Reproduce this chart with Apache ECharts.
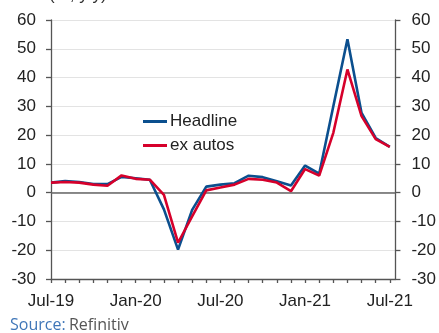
<!DOCTYPE html>
<html>
<head>
<meta charset="utf-8">
<script src="https://cdn.jsdelivr.net/npm/echarts@6/dist/echarts.min.js"></script>
<style>
html,body{margin:0;padding:0;background:#fff;}
#c{width:439px;height:333px;}
</style>
</head>
<body>
<div id="c"></div>
<script>
var months = ["Jul-19","Aug-19","Sep-19","Oct-19","Nov-19","Dec-19","Jan-20","Feb-20","Mar-20","Apr-20","May-20","Jun-20","Jul-20","Aug-20","Sep-20","Oct-20","Nov-20","Dec-20","Jan-21","Feb-21","Mar-21","Apr-21","May-21","Jun-21","Jul-21"];
var headline = [3.5, 4.0, 3.7, 3.0, 3.0, 5.5, 5.0, 4.5, -5.8, -19.8, -6.0, 2.1, 2.8, 3.3, 5.9, 5.4, 4.0, 2.5, 9.4, 6.6, 30.0, 53.3, 27.7, 19.0, 15.9];
var exAutos = [3.5, 3.7, 3.5, 2.8, 2.4, 6.0, 4.8, 4.5, -0.8, -17.4, -8.2, 0.8, 1.8, 2.8, 4.8, 4.5, 3.5, 0.5, 8.2, 5.9, 20.8, 42.8, 26.6, 18.6, 15.9];
var yTicks = {min: -30, max: 60, step: 10};
var labelEvery = 6;

function pairs(arr){ return arr.map(function(v,i){ return [i, v]; }); }

var chart = echarts.init(document.getElementById('c'), null, {renderer:'canvas'});
var fontFam = '"Liberation Sans", Arial, sans-serif';
var yAxisCommon = {
  type: 'value', min: yTicks.min, max: yTicks.max, interval: yTicks.step,
  axisLine: {show: true, lineStyle: {color: '#555', width: 1.3}},
  axisTick: {show: true, length: 5, lineStyle: {color: '#555', width: 1.3}},
  axisLabel: {color: '#222', fontSize: 17, fontFamily: fontFam, margin: 15}
};
chart.setOption({
  animation: false,
  grid: {left: 51, right: 35, top: 20, bottom: 54, containLabel: false},
  xAxis: {
    type: 'value', min: 0, max: months.length - 1 + 0.4, interval: 1,
    axisLine: {show: true, onZero: false, lineStyle: {color: '#555', width: 1.3}},
    axisTick: {show: true, length: 4, lineStyle: {color: '#555', width: 1.3}},
    splitLine: {show: false},
    axisLabel: {
      color: '#222', fontSize: 17, fontFamily: fontFam, margin: 14,
      showMaxLabel: false,
      formatter: function(v){
        if (Math.abs(v - Math.round(v)) > 1e-6) return '';
        var i = Math.round(v);
        return (i % labelEvery === 0 && months[i]) ? months[i] : '';
      }
    }
  },
  yAxis: [
    Object.assign({}, yAxisCommon, {position: 'left',
      splitLine: {show: true, lineStyle: {color: '#e3e3e3', width: 1.2}}}),
    Object.assign({}, yAxisCommon, {position: 'right',
      splitLine: {show: false},
      axisLabel: {color: '#222', fontSize: 17, fontFamily: fontFam, margin: 16}})
  ],
  legend: {
    orient: 'vertical', left: 143, top: 113, padding: 0, itemWidth: 24, itemHeight: 3, itemGap: 7,
    icon: 'rect',
    textStyle: {fontSize: 17, fontFamily: fontFam, color: '#222', padding: [0,0,0,-2]},
    data: ['Headline', 'ex autos']
  },
  graphic: [
    {type: 'text', left: 49, top: -13, style: {text: '(%, y/y)', font: '17px ' + fontFam, fill: '#333'}},
    {type: 'text', left: 10, top: 317, style: {
      rich: {
        a: {fill: '#3f76b8', font: '16px "Open Sans", sans-serif'},
        b: {fill: '#555', font: '16px "Open Sans", sans-serif'}
      },
      text: '{a|Source:} {b|Refinitiv}'
    }}
  ],
  series: [
    {
      name: 'Headline', type: 'line', data: pairs(headline), showSymbol: false, symbol: 'none',
      lineStyle: {color: '#0b4f8e', width: 2.6}, itemStyle: {color: '#0b4f8e'}, z: 3,
      markLine: {silent: true, symbol: 'none', label: {show: false},
        lineStyle: {color: '#666', width: 1.5, type: 'solid'}, data: [{yAxis: 0}], z: 2}
    },
    {
      name: 'ex autos', type: 'line', data: pairs(exAutos), showSymbol: false, symbol: 'none',
      lineStyle: {color: '#d6002b', width: 2.6}, itemStyle: {color: '#d6002b'}, z: 4
    }
  ]
});
</script>
</body>
</html>
